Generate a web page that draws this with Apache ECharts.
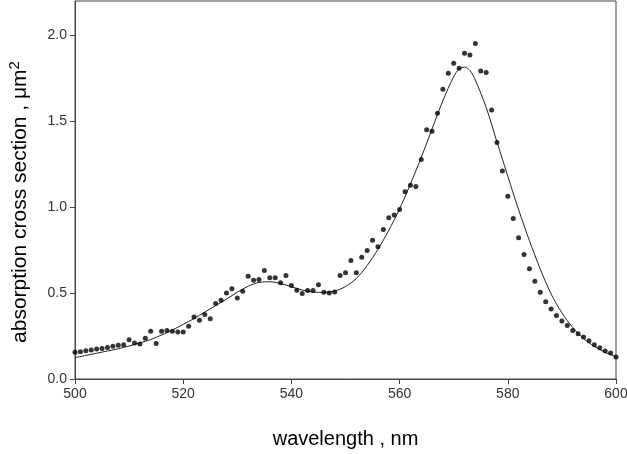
<!DOCTYPE html>
<html>
<head>
<meta charset="utf-8">
<script src="https://cdn.jsdelivr.net/npm/echarts@6/dist/echarts.min.js"></script>
<style>
html,body{margin:0;padding:0;background:#fff;}
#chart{width:627px;height:454px;}
</style>
</head>
<body>
<div id="chart"></div>
<script>
// measured points (wavelength, nm)
const wavelengths = [500,501,502,503,504,505,506,507,508,509,510,511,512,513,514,515,516,517,518,519,
  520,521,522,523,524,525,526,527,528,529,530,531,532,533,534,535,536,537,538,539,
  540,541,542,543,544,545,546,547,548,549,550,551,552,553,554,555,556,557,558,559,
  560,561,562,563,564,565,566,567,568,569,570,571,572,573,574,575,576,577,578,579,
  580,581,582,583,584,585,586,587,588,589,590,591,592,593,594,595,596,597,598,599,600];
const measured = [0.155,0.159,0.165,0.169,0.175,0.178,0.184,0.190,0.196,0.200,0.229,0.210,0.204,0.237,0.278,0.206,0.278,0.283,0.278,0.274,
  0.274,0.307,0.361,0.342,0.375,0.350,0.439,0.458,0.501,0.525,0.472,0.511,0.598,0.575,0.579,0.631,0.590,0.590,0.560,0.602,
  0.544,0.516,0.497,0.515,0.515,0.548,0.505,0.501,0.507,0.602,0.618,0.690,0.618,0.709,0.748,0.808,0.769,0.870,0.938,0.954,
  0.987,1.090,1.127,1.120,1.277,1.450,1.442,1.547,1.686,1.780,1.838,1.809,1.896,1.886,1.953,1.793,1.784,1.566,1.376,1.210,
  1.064,0.934,0.822,0.725,0.641,0.569,0.505,0.449,0.408,0.369,0.338,0.311,0.283,0.264,0.245,0.222,0.200,0.182,0.163,0.152,0.128];
// fitted curve
const fitWavelengths = [500,502,504,506,508,510,512,514,516,518,520,522,524,526,528,530,532,534,536,538,540,542,544,546,548,550,
  552,554,556,558,560,562,564,566,568,570,571,572,573,574,576,578,580,582,584,586,588,590,592,594,596,598,600];
const fitValues = [0.124,0.137,0.150,0.163,0.176,0.192,0.210,0.230,0.256,0.285,0.318,0.352,0.390,0.427,0.465,0.505,0.540,0.562,0.566,0.556,0.537,0.518,0.506,0.504,0.512,0.538,
  0.585,0.660,0.755,0.865,0.990,1.135,1.290,1.455,1.620,1.760,1.805,1.815,1.795,1.740,1.580,1.380,1.180,0.985,0.805,0.640,0.495,0.385,0.300,0.235,0.190,0.155,0.130];
const xTicks = [500,520,540,560,580,600];
const yTicks = [0,0.5,1,1.5,2];

const chart = echarts.init(document.getElementById('chart'), null, {renderer:'canvas'});
const font = 'Arial, "Liberation Sans", Helvetica, sans-serif';
chart.setOption({
  animation:false,
  backgroundColor:'#fff',
  grid:{left:75,right:11,top:1,bottom:75,show:true,borderColor:'#444',borderWidth:1,containLabel:false,outerBoundsMode:'none'},
  xAxis:{
    type:'value',min:500,max:600,interval:20,
    name:'wavelength , nm',nameLocation:'middle',nameGap:50,
    nameTextStyle:{fontFamily:font,fontSize:20,color:'#000'},
    axisLine:{show:true,onZero:false,lineStyle:{color:'#444',width:1}},
    axisTick:{show:true,inside:false,length:5,customValues:xTicks,lineStyle:{color:'#444'}},
    axisLabel:{fontFamily:font,fontSize:14,color:'#333',margin:8,customValues:xTicks},
    splitLine:{show:false}
  },
  yAxis:{
    type:'value',min:0,max:2.2,interval:0.5,
    name:'{a|absorption cross section , μm}{b|2}',nameLocation:'middle',nameGap:42,nameRotate:90,
    nameTextStyle:{fontFamily:font,fontSize:21,color:'#000',padding:[0,24,0,0],
      rich:{a:{fontFamily:font,fontSize:21,color:'#000'},b:{fontFamily:font,fontSize:15,color:'#000',padding:[0,0,11,0]}}},
    axisLine:{show:true,lineStyle:{color:'#444',width:1}},
    axisTick:{show:true,inside:false,length:5,customValues:yTicks,lineStyle:{color:'#444'}},
    axisLabel:{fontFamily:font,fontSize:14,color:'#333',margin:8,customValues:yTicks,formatter:v=>v.toFixed(1)},
    splitLine:{show:false}
  },
  series:[
    {type:'line',data:fitWavelengths.map((w,i)=>[w,fitValues[i]]),smooth:0.3,showSymbol:false,
     lineStyle:{color:'#222',width:1},z:2},
    {type:'scatter',data:wavelengths.map((w,i)=>[w,measured[i]]),symbol:'circle',symbolSize:5,
     itemStyle:{color:'#000'},z:3}
  ]
});
</script>
</body>
</html>
